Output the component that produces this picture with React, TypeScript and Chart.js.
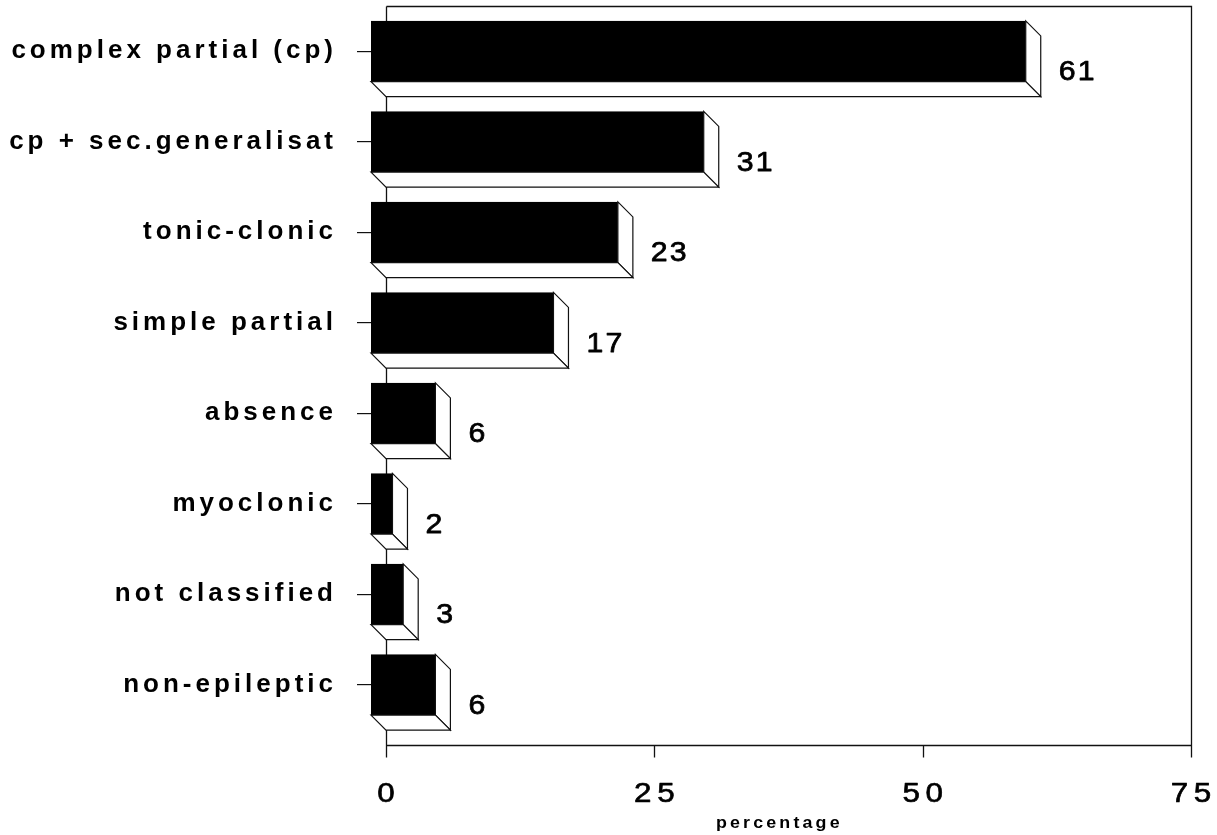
import { useEffect, useRef } from 'react';
import { Chart, registerables } from 'chart.js';

Chart.register(...registerables);

// Seizure types and share of patients (%)
const seizureTypes = [
  'complex partial (cp)',
  'cp + sec.generalisat',
  'tonic-clonic',
  'simple partial',
  'absence',
  'myoclonic',
  'not classified',
  'non-epileptic',
];
const percentages = [61, 31, 23, 17, 6, 2, 3, 6];
const axisTicks = [0, 25, 50, 75];
const axisTitle = 'percentage';

const FONT = '"Liberation Sans", Arial, Helvetica, sans-serif';
const DEPTH = 15; // extrusion of the 3D bars, px
const TICK_OUT = 12; // length of the x-axis tick marks below the floor line
const TITLE_AT = 36.5; // axis units where the x title is centred

// Draws a horizontally stretched, letter-spaced text run,
// optionally thickened with a thin outline stroke.
function drawWideText(
  ctx: CanvasRenderingContext2D,
  text: string,
  x: number,
  y: number,
  font: string,
  align: 'left' | 'center' | 'right',
  stretch: number,
  spacing: number,
  thicken = 0,
) {
  ctx.save();
  ctx.font = font;
  ctx.letterSpacing = `${spacing}px`;
  ctx.textBaseline = 'alphabetic';
  ctx.textAlign = 'left';
  const w = (ctx.measureText(text).width - spacing) * stretch;
  let start = x;
  if (align === 'center') start = x - w / 2;
  else if (align === 'right') start = x - w;
  ctx.translate(start, y);
  ctx.scale(stretch, 1);
  ctx.fillStyle = '#000';
  ctx.fillText(text, 0, 0);
  if (thicken > 0) {
    ctx.strokeStyle = '#000';
    ctx.lineWidth = thicken;
    ctx.lineJoin = 'round';
    ctx.strokeText(text, 0, 0);
  }
  ctx.restore();
}

const boxBarsPlugin = {
  id: 'boxBars',
  beforeDraw(chart: any) {
    chart.ctx.letterSpacing = '4px';
  },
  beforeDatasetsDraw(chart: any) {
    const { ctx, chartArea: a, scales } = chart;
    const x = scales.x;
    const left = Math.round(a.left) + 0.5;
    const right = Math.round(a.right) + 0.5;
    const top = Math.round(a.top) + 0.5;
    const floor = Math.round(a.bottom + DEPTH) + 0.5;
    ctx.save();
    ctx.strokeStyle = '#111';
    ctx.lineWidth = 1.3;
    ctx.beginPath();
    ctx.moveTo(left, top);
    ctx.lineTo(left, floor + TICK_OUT);
    ctx.moveTo(left, top);
    ctx.lineTo(right, top);
    ctx.lineTo(right, floor + TICK_OUT);
    ctx.moveTo(left, floor);
    ctx.lineTo(right, floor);
    for (const t of axisTicks) {
      const px = Math.round(x.getPixelForValue(t)) + 0.5;
      ctx.moveTo(px, floor);
      ctx.lineTo(px, floor + TICK_OUT);
    }
    ctx.stroke();
    ctx.restore();
  },
  afterDatasetsDraw(chart: any) {
    const { ctx } = chart;
    const meta = chart.getDatasetMeta(0);
    ctx.save();
    ctx.lineWidth = 1.2;
    ctx.strokeStyle = '#111';
    ctx.lineJoin = 'miter';
    meta.data.forEach((bar: any, i: number) => {
      const { x, y, base, height } = bar.getProps(['x', 'y', 'base', 'height'], true);
      const h2 = height / 2;
      const fl = base - DEPTH;
      const fr = x - DEPTH;
      const ft = y - h2;
      const fb = y + h2;
      // front face
      ctx.fillStyle = '#000';
      ctx.fillRect(fl, ft, fr - fl, fb - ft);
      // right side face
      ctx.beginPath();
      ctx.moveTo(fr, ft);
      ctx.lineTo(x, ft + DEPTH);
      ctx.lineTo(x, fb + DEPTH);
      ctx.lineTo(fr, fb);
      ctx.closePath();
      ctx.fillStyle = '#fff';
      ctx.fill();
      ctx.stroke();
      // bottom face
      ctx.beginPath();
      ctx.moveTo(fl, fb);
      ctx.lineTo(fr, fb);
      ctx.lineTo(x, fb + DEPTH);
      ctx.lineTo(base, fb + DEPTH);
      ctx.closePath();
      ctx.fill();
      ctx.stroke();
      // value label
      drawWideText(ctx, String(percentages[i]), x + 18, y + DEPTH + 14, `28px ${FONT}`, 'left', 1.08, 2, 0.75);
    });
    ctx.restore();
  },
  afterDraw(chart: any) {
    const { ctx, chartArea: a, scales } = chart;
    const x = scales.x;
    const floor = a.bottom + DEPTH;
    for (const t of axisTicks) {
      drawWideText(ctx, String(t), x.getPixelForValue(t), floor + 57, `28px ${FONT}`, 'center', 1.12, 5, 0.65);
    }
    drawWideText(ctx, axisTitle, x.getPixelForValue(TITLE_AT), 828, `bold 17px ${FONT}`, 'center', 1.05, 3);
    ctx.letterSpacing = '0px';
  },
};

export default function App() {
  const canvasRef = useRef<HTMLCanvasElement | null>(null);

  useEffect(() => {
    const canvas = canvasRef.current;
    if (!canvas) return;
    const zeroPadding = (s: any) => {
      s.paddingLeft = 0;
      s.paddingRight = 0;
      s.paddingTop = 0;
      s.paddingBottom = 0;
    };
    const chart = new Chart(canvas, {
      type: 'bar',
      data: {
        labels: seizureTypes,
        datasets: [
          {
            data: percentages,
            backgroundColor: 'rgba(0,0,0,0)',
            borderWidth: 0,
            barPercentage: 0.67,
            categoryPercentage: 1,
          },
        ],
      },
      options: {
        indexAxis: 'y',
        responsive: false,
        animation: false,
        events: [],
        layout: { padding: { left: 0, right: 26, top: 6, bottom: 0 } },
        plugins: {
          legend: { display: false },
          tooltip: { enabled: false },
        },
        scales: {
          x: {
            type: 'linear',
            min: 0,
            max: 75,
            afterBuildTicks: (s: any) => {
              s.ticks = axisTicks.map((v) => ({ value: v }));
            },
            afterFit: (s: any) => {
              s.height = 105;
              zeroPadding(s);
            },
            grid: { display: false, drawTicks: false },
            border: { display: false },
            ticks: { display: false },
          },
          y: {
            afterFit: (s: any) => {
              s.width = 386;
              zeroPadding(s);
            },
            grid: {
              display: true,
              drawOnChartArea: false,
              offset: false,
              tickLength: 29,
              color: '#111',
              lineWidth: 1.2,
            },
            border: { display: false },
            ticks: {
              font: { family: FONT, size: 26, weight: 'bold' },
              color: '#000',
              padding: 20,
              autoSkip: false,
            },
          },
        },
      },
      plugins: [boxBarsPlugin],
    });
    return () => chart.destroy();
  }, []);

  return (
    <div style={{ position: 'fixed', left: 0, top: 0, width: 1217, height: 835, background: '#fff' }}>
      <canvas ref={canvasRef} width={1217} height={835} style={{ display: 'block' }} />
    </div>
  );
}
